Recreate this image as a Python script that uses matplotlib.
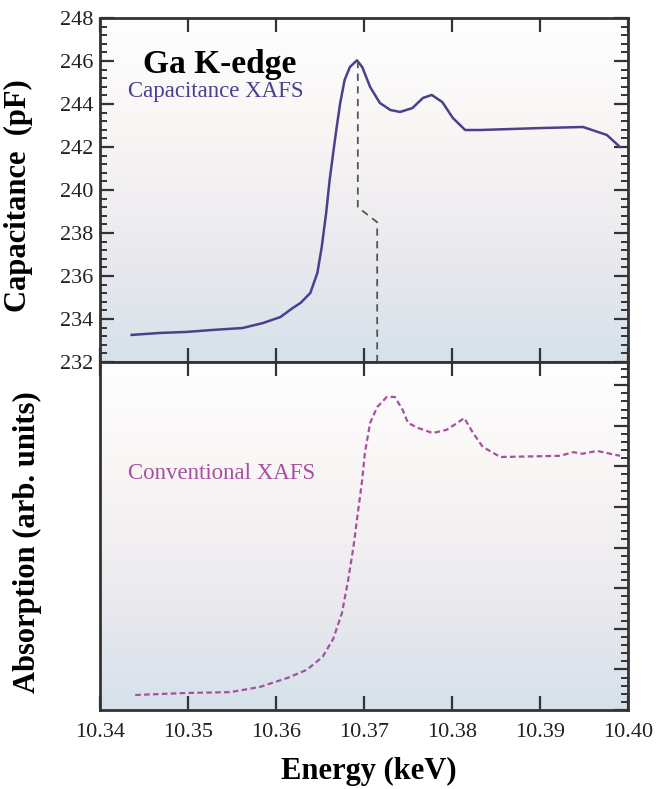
import numpy as np
import matplotlib.pyplot as plt
from matplotlib.colors import LinearSegmentedColormap
from matplotlib.ticker import MultipleLocator, AutoMinorLocator

plt.rcParams['font.family'] = ['Liberation Serif', 'DejaVu Serif']

# capacitance XAFS (top panel)
cap_energy = [10.3436, 10.3468, 10.3499, 10.3528, 10.3562, 10.3585, 10.3605, 10.3619,
              10.3628, 10.3639, 10.3647, 10.3652, 10.3657, 10.3661, 10.3665, 10.3669,
              10.3673, 10.3678, 10.3684, 10.3692, 10.3698, 10.3707, 10.3718, 10.3730,
              10.3741, 10.3755, 10.3767, 10.3777, 10.3789, 10.3801, 10.3815, 10.3832,
              10.3900, 10.3949, 10.3976, 10.3991]
cap_pf = [233.26, 233.35, 233.40, 233.49, 233.58, 233.81, 234.09, 234.51,
          234.75, 235.21, 236.14, 237.35, 238.93, 240.47, 241.72, 242.93,
          244.05, 245.12, 245.72, 246.03, 245.72, 244.79, 244.05, 243.72,
          243.63, 243.81, 244.28, 244.42, 244.09, 243.35, 242.79, 242.79,
          242.88, 242.93, 242.56, 242.00]

# conventional XAFS (bottom panel, arb. units)
conv_energy = [10.3440, 10.3499, 10.3548, 10.3582, 10.3613, 10.3635, 10.3653, 10.3665,
               10.3675, 10.3682, 10.3688, 10.3693, 10.3698, 10.3701, 10.3707, 10.3715,
               10.3726, 10.3735, 10.3744, 10.3750, 10.3761, 10.3778, 10.3794, 10.3806,
               10.3814, 10.3824, 10.3835, 10.3851, 10.3855, 10.3923, 10.3938, 10.3948,
               10.3965, 10.3980, 10.3991]
conv_abs = [0.37, 0.42, 0.44, 0.57, 0.79, 0.99, 1.31, 1.75,
            2.39, 3.20, 4.01, 4.85, 5.67, 6.33, 7.07, 7.46,
            7.71, 7.71, 7.39, 7.07, 6.95, 6.82, 6.90, 7.07,
            7.19, 6.82, 6.48, 6.28, 6.23, 6.26, 6.35, 6.31,
            6.38, 6.31, 6.26]

# guide from capacitance peak down to absorption peak
guide_energy = [10.3693, 10.3693, 10.3715, 10.3715]
guide_pf = [246.0, 239.2, 238.5, 230.6]

xticks = [10.34, 10.35, 10.36, 10.37, 10.38, 10.39, 10.40]
xticklabels = ['10.34', '10.35', '10.36', '10.37', '10.38', '10.39', '10.40']

fig = plt.figure(figsize=(6.61, 7.89), dpi=100)
ax1 = fig.add_axes([0.1513, 0.5412, 0.7987, 0.436])
ax2 = fig.add_axes([0.1513, 0.1001, 0.7987, 0.4411])

bg = LinearSegmentedColormap.from_list('bg', ['#fefefe', '#f9f5f5', '#ebeaee', '#d6e1eb'])
grad = np.linspace(0, 1, 256).reshape(-1, 1)
for ax in (ax1, ax2):
    ax.imshow(grad, cmap=bg, aspect='auto', extent=[0, 1, 0, 1], origin='upper',
              transform=ax.transAxes, zorder=0)
    for s in ax.spines.values():
        s.set_linewidth(2)
        s.set_color('#333333')
    ax.set_xlim(10.34, 10.40)
    ax.set_xticks(xticks)
    ax.tick_params(which='both', direction='in', top=True, right=True,
                   colors='#333333', labelcolor='#222222', labelsize=16)
    ax.tick_params(which='major', length=10, width=1.6)
    ax.tick_params(which='minor', length=5, width=1.4)
    ax.tick_params(axis='x', which='minor', length=0)

ax1.plot(cap_energy, cap_pf, color='#4b3f8e', lw=1.8, zorder=3)
ax1.plot(guide_energy, guide_pf, color='#555555', lw=1.3, ls=(0, (4, 3)),
         clip_on=False, zorder=4)
ax1.set_ylim(232, 248)
ax1.yaxis.set_major_locator(MultipleLocator(2))
ax1.yaxis.set_minor_locator(AutoMinorLocator(5))
ax1.tick_params(labelbottom=False, pad=5)
ax1.set_ylabel('Capacitance  (pF)', fontsize=22, fontweight='bold')
ax1.yaxis.set_label_coords(-0.127, 0.483)
ax1.text(0.081, 0.866, 'Ga K-edge', transform=ax1.transAxes, fontsize=24,
         fontweight='bold', va='center', ha='left')
ax1.text(0.053, 0.785, 'Capacitance XAFS', transform=ax1.transAxes, fontsize=16.5,
         color='#4b3f8e', va='center', ha='left')

ax2.plot(conv_energy, conv_abs, color='#a650a0', lw=1.6, ls=(0, (2.5, 1.5)), zorder=3)
ax2.set_ylim(0, 8.57)
ax2.yaxis.set_major_locator(MultipleLocator(1))
ax2.yaxis.set_minor_locator(AutoMinorLocator(5))
ax2.tick_params(which='both', left=False, labelleft=False)
ax2.set_xticklabels(xticklabels)
ax2.tick_params(axis='x', pad=9)
ax2.set_ylabel('Absorption (arb. units)', fontsize=22, fontweight='bold')
ax2.yaxis.set_label_coords(-0.110, 0.483)
ax2.set_xlabel('Energy (keV)', fontsize=22, fontweight='bold')
ax2.xaxis.set_label_coords(0.51, -0.135)
ax2.text(0.053, 0.681, 'Conventional XAFS', transform=ax2.transAxes, fontsize=16.5,
         color='#a650a0', va='center', ha='left')

fig.savefig('out.png', dpi=100)
